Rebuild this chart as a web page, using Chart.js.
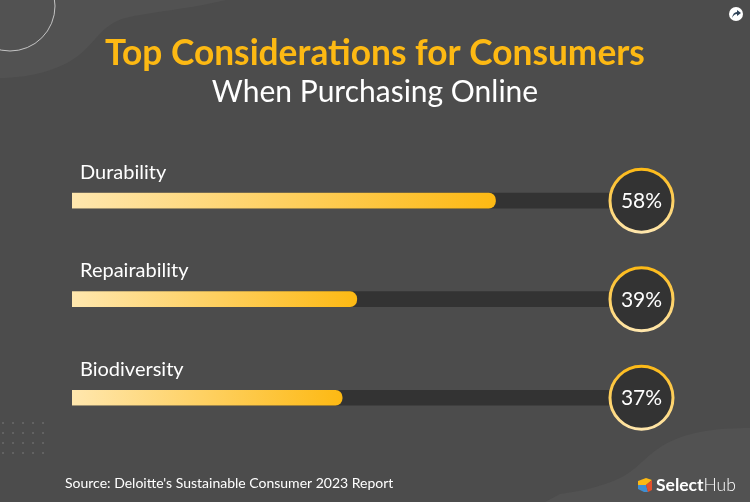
<!DOCTYPE html>
<html lang="en">
<head>
    <meta charset="UTF-8">
    <title>Top Considerations for Consumers</title>
    <script src="https://cdn.jsdelivr.net/npm/chart.js"></script>
    <style>
        html, body { margin: 0; padding: 0; background: #4c4c4c; }
        #wrap { position: relative; width: 750px; height: 502px; overflow: hidden; }
    </style>
</head>
<body>
    <div id="wrap"><canvas id="chart"></canvas></div>

    <script>
        const categories = ["Durability", "Repairability", "Biodiversity"];
        const shares = [58, 39, 37];
        const trackValues = [78, 78, 78];

        const titleText = "Top Considerations for Consumers";
        const subtitleText = "When Purchasing Online";
        const sourceText = "Source: Deloitte's Sustainable Consumer 2023 Report";

        const FONT = "Lato, 'Open Sans', sans-serif";
        const AMBER = "#fdb913";
        const PALE = "#ffe7ae";

        // background shapes, dots, logo and the little share icon
        const decorPlugin = {
            id: "decor",
            beforeDraw(chart) {
                const ctx = chart.ctx;
                ctx.save();
                ctx.fillStyle = "#4c4c4c";
                ctx.fillRect(0, 0, chart.width, chart.height);

                ctx.fillStyle = "#525252";
                ctx.beginPath();
                ctx.moveTo(0, 0);
                ctx.lineTo(226, 0);
                ctx.bezierCurveTo(190, 9, 150, 12, 125, 18);
                ctx.bezierCurveTo(100, 25, 95, 45, 75, 58);
                ctx.bezierCurveTo(55, 72, 25, 78, 0, 78);
                ctx.closePath();
                ctx.fill();

                ctx.beginPath();
                ctx.moveTo(750, 428);
                ctx.bezierCurveTo(715, 428, 685, 432, 662, 446);
                ctx.bezierCurveTo(640, 460, 635, 475, 605, 484);
                ctx.bezierCurveTo(590, 489, 575, 492, 560, 494);
                ctx.lineTo(545, 502);
                ctx.lineTo(750, 502);
                ctx.closePath();
                ctx.fill();

                ctx.strokeStyle = "#c4c4c4";
                ctx.lineWidth = 1;
                ctx.beginPath();
                ctx.arc(10, 6, 45, 0, Math.PI * 2);
                ctx.stroke();

                ctx.fillStyle = "#626262";
                for (let i = 0; i < 5; i++) {
                    for (let j = 0; j < 4; j++) {
                        ctx.fillRect(2 + i * 10, 422 + j * 10, 2, 2);
                    }
                }
                ctx.restore();
            },
            afterDraw(chart) {
                const ctx = chart.ctx;
                ctx.save();

                // source line
                ctx.fillStyle = "#ffffff";
                ctx.textBaseline = "alphabetic";
                ctx.textAlign = "left";
                ctx.font = "14px " + FONT;
                ctx.fillText(sourceText, 65, 488);

                // logo
                ctx.fillStyle = AMBER;
                ctx.beginPath();
                ctx.moveTo(638, 481); ctx.lineTo(646, 478); ctx.lineTo(652, 480); ctx.lineTo(646, 485); ctx.lineTo(638, 485);
                ctx.closePath(); ctx.fill();
                ctx.fillStyle = "#3f8fd2";
                ctx.beginPath();
                ctx.moveTo(638, 485); ctx.lineTo(646, 485); ctx.lineTo(648, 492); ctx.lineTo(644, 492); ctx.lineTo(638, 489);
                ctx.closePath(); ctx.fill();
                ctx.fillStyle = "#e4502b";
                ctx.beginPath();
                ctx.moveTo(652, 480); ctx.lineTo(652, 490); ctx.lineTo(648, 492); ctx.lineTo(646, 485);
                ctx.closePath(); ctx.fill();

                ctx.fillStyle = "#ffffff";
                ctx.font = "bold 17.5px " + FONT;
                ctx.fillText("Select", 656, 491);
                const w = ctx.measureText("Select").width;
                ctx.font = "300 17.5px " + FONT;
                ctx.fillText("Hub", 656 + w, 491);

                // share icon
                ctx.fillStyle = "#ffffff";
                ctx.beginPath();
                ctx.arc(736, 14, 7, 0, Math.PI * 2);
                ctx.fill();
                ctx.fillStyle = "#2f4358";
                ctx.beginPath();
                ctx.moveTo(732, 18); ctx.quadraticCurveTo(733, 12, 737, 12);
                ctx.lineTo(737, 10); ctx.lineTo(741, 13); ctx.lineTo(737, 16); ctx.lineTo(737, 14);
                ctx.quadraticCurveTo(734, 14, 732, 18);
                ctx.closePath(); ctx.fill();
                ctx.restore();
            }
        };

        // category names above the bars and the round value badges
        const badgePlugin = {
            id: "badges",
            afterDatasetsDraw(chart) {
                const ctx = chart.ctx;
                const xs = chart.scales.x;
                const ys = chart.scales.y;
                ctx.save();
                categories.forEach((name, i) => {
                    const cy = ys.getPixelForValue(i);
                    const cx = xs.getPixelForValue(trackValues[i]);

                    ctx.fillStyle = "#ffffff";
                    ctx.font = "20px " + FONT;
                    ctx.textAlign = "left";
                    ctx.textBaseline = "alphabetic";
                    ctx.fillText(name, 80, cy - 22);

                    const ring = ctx.createLinearGradient(0, cy - 33, 0, cy + 33);
                    ring.addColorStop(0, AMBER);
                    ring.addColorStop(1, PALE);
                    ctx.beginPath();
                    ctx.arc(cx, cy, 31.5, 0, Math.PI * 2);
                    ctx.fillStyle = "#333333";
                    ctx.fill();
                    ctx.lineWidth = 3;
                    ctx.strokeStyle = ring;
                    ctx.stroke();

                    ctx.fillStyle = "#ffffff";
                    ctx.font = "21px " + FONT;
                    ctx.textAlign = "center";
                    ctx.textBaseline = "middle";
                    ctx.fillText(shares[i] + "%", cx, cy + 1);
                });
                ctx.restore();
            }
        };

        function barGradient(context) {
            const chart = context.chart;
            if (!chart.chartArea) return AMBER;
            const xs = chart.scales.x;
            const g = chart.ctx.createLinearGradient(xs.getPixelForValue(0), 0, xs.getPixelForValue(shares[context.dataIndex]), 0);
            g.addColorStop(0, PALE);
            g.addColorStop(1, AMBER);
            return g;
        }

        new Chart(document.getElementById("chart"), {
            type: "bar",
            data: {
                labels: categories,
                datasets: [
                    {
                        label: "Share",
                        data: shares,
                        backgroundColor: barGradient,
                        borderRadius: { topRight: 7, bottomRight: 7 },
                        borderSkipped: false,
                        barThickness: 15,
                        grouped: false,
                        order: 1
                    },
                    {
                        label: "Track",
                        data: trackValues,
                        backgroundColor: "#333333",
                        barThickness: 15,
                        grouped: false,
                        order: 2
                    }
                ]
            },
            options: {
                indexAxis: "y",
                responsive: true,
                maintainAspectRatio: false,
                animation: false,
                layout: { padding: { left: 72, right: 72, top: 32, bottom: 55 } },
                scales: {
                    x: { display: false, min: 0, max: 83 },
                    y: { display: false }
                },
                plugins: {
                    legend: { display: false },
                    tooltip: { enabled: false },
                    title: {
                        display: true,
                        text: titleText,
                        color: AMBER,
                        font: { family: FONT, size: 35.3, weight: "bold" },
                        padding: { top: 0, bottom: 0 }
                    },
                    subtitle: {
                        display: true,
                        text: subtitleText,
                        color: "#ffffff",
                        font: { family: FONT, size: 30, weight: "normal" },
                        padding: { top: 0, bottom: 41 }
                    }
                }
            },
            plugins: [decorPlugin, badgePlugin]
        });
    </script>
</body>
</html>
